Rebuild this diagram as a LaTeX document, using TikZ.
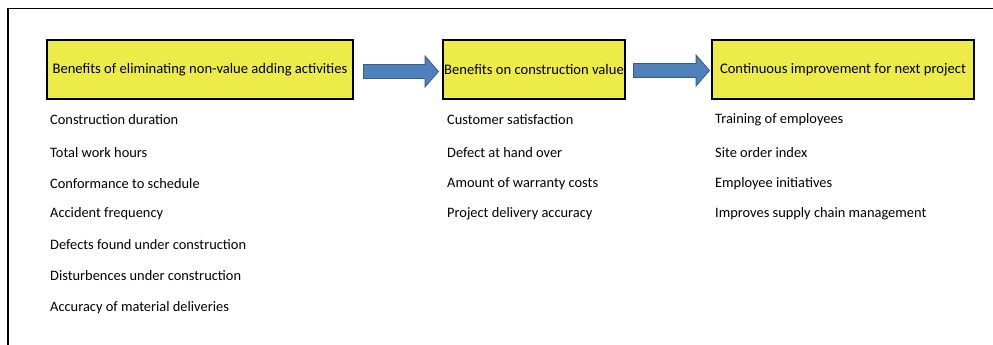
\documentclass[tikz,border=0pt]{standalone}
\usepackage{fontspec}
\setmainfont{Carlito}
\usepackage{tikz}
\usetikzlibrary{calc, positioning, shapes.arrows}

\definecolor{boxyellow}{RGB}{236,235,72}
\definecolor{arrowblue}{RGB}{79,129,189}
\definecolor{arrowedge}{RGB}{56,93,138}

\tikzset{
    headbox/.style={draw=black, line width=2pt, fill=boxyellow, inner xsep=1pt, inner ysep=0pt, minimum height=59pt, font=\fontsize{14.6}{16}\selectfont},
    flowarrow/.style={shape=single arrow, draw=arrowedge, line width=0.8pt, fill=arrowblue, inner sep=6.5pt, single arrow head extend=8.5pt, single arrow tip angle=98, minimum height=75pt},
    item/.style={anchor=west, inner sep=0pt, font=\fontsize{14.4}{16}\selectfont}
}

\begin{document}
\begin{tikzpicture}[x=1pt,y=-1pt]
            \useasboundingbox (0,0) rectangle (993,345);
            %\draw (0,0) rectangle (993,345);
            \draw [line width=1.5pt] (8,345) -- (8,8.5) -- (993,8.5);

            \node [headbox, minimum width=306pt] (b1) at (200,69.5) {Benefits of eliminating non-value adding activities};
            \node [headbox, minimum width=182pt] (b2) at (534,69.5) {Benefits on construction value};
            \node [headbox, minimum width=262pt] (b3) at (843,69.5) {Continuous improvement for next project};

            \node [flowarrow] (a1) at ($(b1.east)!0.5!(b2.west)+(0,2)$) {};
            \node [flowarrow, minimum height=76pt] (a2) at ($(b2.east)!0.5!(b3.west)+(0,1)$) {};

            \node [item] (c1) at (50,120) {Construction duration};
            \node [item] (c2) at (50,153) {Total work hours};
            \node [item] (c3) at (50,184) {Conformance to schedule};
            \node [item] (c4) at (50,214) {Accident frequency};
            \node [item] (c5) at (50,245) {Defects found under construction};
            \node [item] (c6) at (50,276) {Disturbences under construction};
            \node [item] (c7) at (50,308) {Accuracy of material deliveries};

            \node [item] (v1) at (447,120) {Customer satisfaction};
            \node [item] (v2) at (447,153) {Defect at hand over};
            \node [item] (v3) at (447,184) {Amount of warranty costs};
            \node [item] (v4) at (447,214) {Project delivery accuracy};

            \node [item] (p1) at (715,120) {Training of employees};
            \node [item] (p2) at (715,153) {Site order index};
            \node [item] (p3) at (715,184) {Employee initiatives};
            \node [item] (p4) at (715,214) {Improves supply chain management};
\end{tikzpicture}
\end{document}
